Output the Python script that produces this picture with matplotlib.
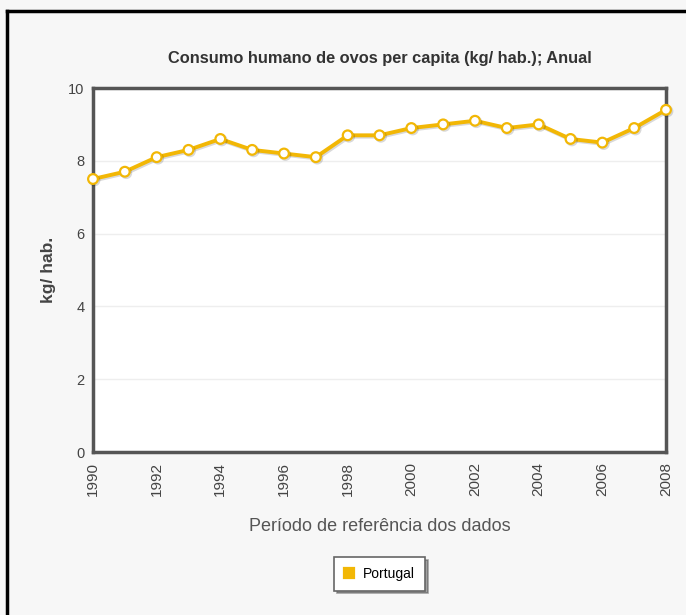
import numpy as np
import matplotlib.pyplot as plt
from matplotlib.lines import Line2D
import matplotlib.patheffects as pe

plt.rcParams['font.family'] = ['Liberation Sans', 'DejaVu Sans']

# dados
anos = list(range(1990, 2009))
consumo = [7.5, 7.7, 8.1, 8.3, 8.6, 8.3, 8.2, 8.1, 8.7, 8.7,
           8.9, 9.0, 9.1, 8.9, 9.0, 8.6, 8.5, 8.9, 9.4]
yticks = [0, 2, 4, 6, 8, 10]

bg = '#f7f7f7'
amarelo = '#f2b705'

fig = plt.figure(figsize=(6.86, 6.15), dpi=100, facecolor=bg)
ax = fig.add_axes([93/686, 1-452/615, 573/686, 364/615])
ax.set_facecolor('white')

ax.plot(anos, consumo, color=amarelo, lw=2.8, marker='o', ms=7,
        mfc='white', mec=amarelo, mew=1.6, zorder=3, clip_on=False,
        path_effects=[pe.SimpleLineShadow(offset=(1, -1), alpha=0.15), pe.Normal()],
        label='Portugal')

ax.set_xlim(1990, 2008)
ax.set_ylim(0, 10)
ax.set_xticks(anos[::2])
ax.set_xticklabels([str(a) for a in anos[::2]], rotation=90, fontsize=11, color='#444')
ax.set_yticks(yticks)
ax.set_yticklabels([str(v) for v in yticks], fontsize=10.5, color='#444')
ax.tick_params(axis='x', length=0, pad=7)
ax.tick_params(axis='y', length=0, pad=6)
ax.grid(axis='y', color='#eeeeee', lw=1)
ax.set_axisbelow(True)
for s in ax.spines.values():
    s.set_color('#555555')
    s.set_linewidth(2.5)

ax.set_title('Consumo humano de ovos per capita (kg/ hab.); Anual',
             fontsize=11.8, fontweight='bold', color='#333', pad=18)
ax.set_ylabel('kg/ hab.', fontsize=12.5, fontweight='bold', color='#444', labelpad=9)
ax.set_xlabel('Período de referência dos dados', fontsize=13, color='#555', labelpad=16)

leg = ax.legend(loc='upper center', bbox_to_anchor=(0.5, -0.27), frameon=True,
                fancybox=False, shadow=True, fontsize=10, handlelength=0.8,
                handletextpad=0.6, borderpad=0.7)
leg.get_frame().set_edgecolor('#666666')
leg.get_frame().set_linewidth(1.2)
for h in leg.legend_handles:
    h.set_marker('s')
    h.set_markerfacecolor(amarelo)
    h.set_markeredgecolor(amarelo)
    h.set_linestyle('none')
    h.set_markersize(7)
    h.set_path_effects([])

# moldura preta (só topo e esquerda)
fig.add_artist(Line2D([7/686, 7/686], [0, 1-11/615], color='black', lw=2.5,
                      transform=fig.transFigure))
fig.add_artist(Line2D([7/686, 1], [1-11/615, 1-11/615], color='black', lw=2.5,
                      transform=fig.transFigure))

fig.savefig('out.png', dpi=100, facecolor=bg)
